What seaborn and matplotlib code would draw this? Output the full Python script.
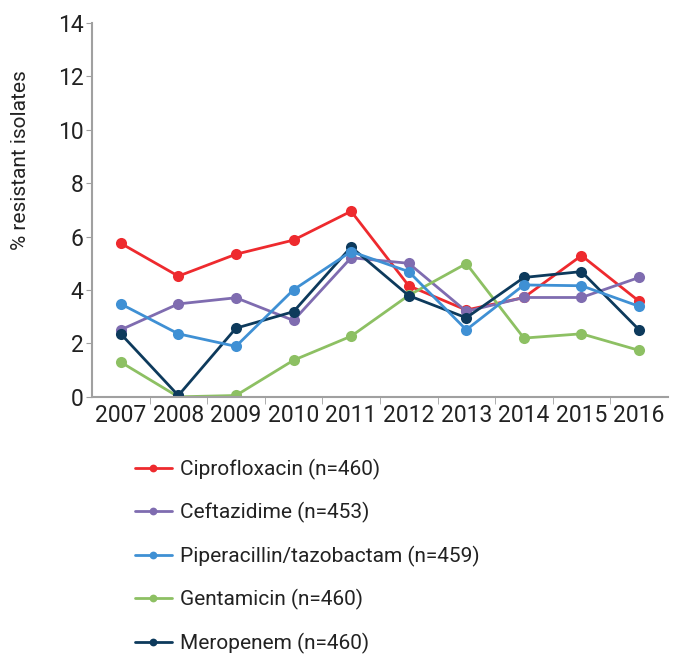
import pandas as pd
import matplotlib.pyplot as plt
import seaborn as sns

# Yıllar ve direnç oranları (%)
years = [2007, 2008, 2009, 2010, 2011, 2012, 2013, 2014, 2015, 2016]
ciprofloxacin = [5.75, 4.52, 5.34, 5.87, 6.95, 4.16, 3.25, 3.72, 5.29, 3.58]
ceftazidime = [2.51, 3.48, 3.71, 2.86, 5.21, 5.00, 3.20, 3.72, 3.72, 4.47]
piperacillin = [3.48, 2.36, 1.89, 4.01, 5.44, 4.69, 2.51, 4.19, 4.16, 3.39]
gentamicin = [1.30, 0.00, 0.05, 1.37, 2.27, 3.80, 4.99, 2.20, 2.36, 1.74]
meropenem = [2.36, 0.05, 2.57, 3.19, 5.61, 3.79, 2.96, 4.47, 4.69, 2.51]

labels = ['Ciprofloxacin (n=460)', 'Ceftazidime (n=453)',
          'Piperacillin/tazobactam (n=459)', 'Gentamicin (n=460)',
          'Meropenem (n=460)']
colors = ['#ee2a2e', '#7f6cb0', '#3f90d4', '#8dc063', '#0d3a5c']

series = [ciprofloxacin, ceftazidime, piperacillin, gentamicin, meropenem]
df = pd.concat([pd.DataFrame({'Year': years, 'Value': vals, 'Drug': lab})
                for lab, vals in zip(labels, series)])

sns.set_style('white')
plt.rcParams['font.family'] = ['Roboto', 'DejaVu Sans']

fig = plt.figure(figsize=(6.76, 6.57), dpi=100)
ax = fig.add_axes([0.136, 0.396, 0.852, 0.569])

# çizim sırası (mavi en üstte)
draw_order = [labels[0], labels[1], labels[3], labels[4], labels[2]]
sns.lineplot(data=df, x='Year', y='Value', hue='Drug', hue_order=draw_order,
             palette=dict(zip(labels, colors)), marker='o', markersize=8,
             markeredgewidth=0, linewidth=2, ax=ax, legend=True)

ax.set_xlim(2006.5, 2016.5)
ax.set_ylim(0, 14)
ax.set_yticks(range(0, 15, 2))
ax.set_xticks(years)
ax.set_xticks([y + 0.5 for y in years[:-1]], minor=True)
ax.tick_params(axis='x', which='major', length=0, labelsize=16.5, pad=5, labelcolor='#222222')
ax.tick_params(axis='x', which='minor', length=5, color='#a0a0a0', direction='out', bottom=True)
ax.tick_params(axis='y', length=4, color='#a0a0a0', direction='out', left=True,
               labelsize=16.5, pad=2, labelcolor='#222222')
for s in ['top', 'right']:
    ax.spines[s].set_visible(False)
for s in ['left', 'bottom']:
    ax.spines[s].set_color('#a0a0a0')
    ax.spines[s].set_linewidth(1.5)
ax.set_xlabel('')
ax.set_ylabel('% resistant isolates', fontsize=15, color='#222222')
ax.yaxis.set_label_coords(-0.108, 0.634)

handles, labs = ax.get_legend_handles_labels()
hmap = dict(zip(labs, handles))
ax.get_legend().remove()
fig.legend([hmap[l] for l in labels], labels, loc='upper left',
           bbox_to_anchor=(0.2, 0.302), frameon=False, fontsize=15,
           handlelength=1.75, handletextpad=0.4, labelspacing=1.08,
           borderpad=0, borderaxespad=0, markerscale=0.7,
           labelcolor='#222222')

fig.savefig('out.png', dpi=100)
